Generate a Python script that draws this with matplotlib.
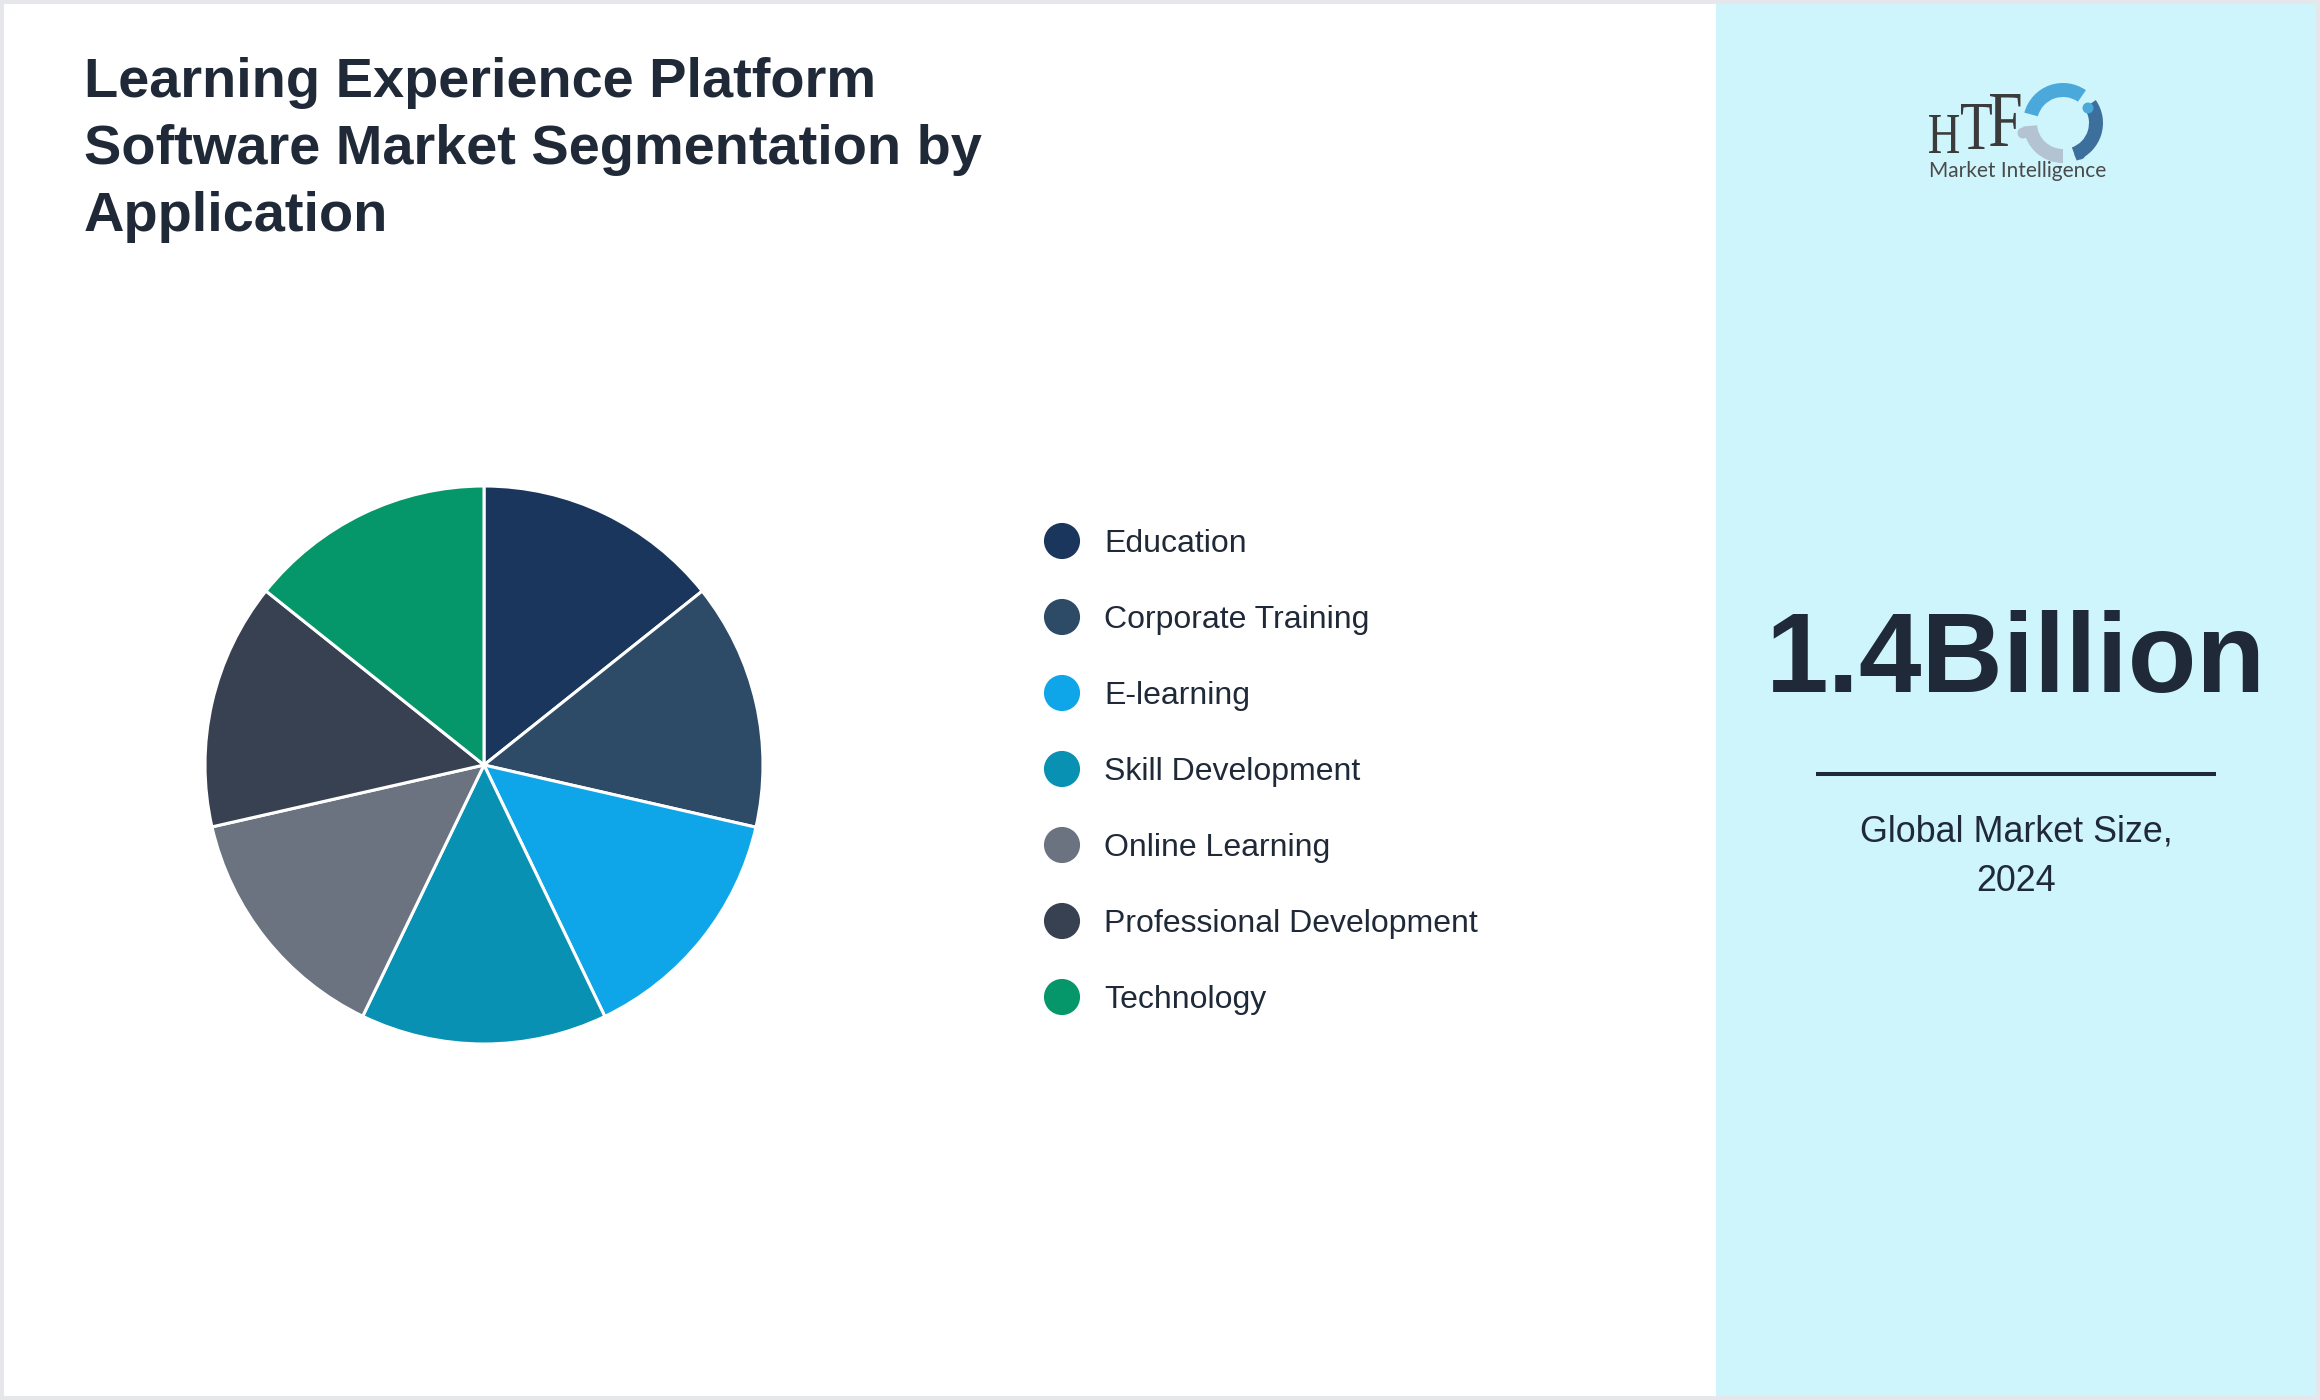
import matplotlib
matplotlib.use("Agg")
import matplotlib.pyplot as plt
from matplotlib.patches import Rectangle, Wedge, Circle, PathPatch
from matplotlib.textpath import TextPath
from matplotlib.font_manager import FontProperties
from matplotlib.transforms import Affine2D

plt.rcParams['font.family'] = ['Liberation Sans', 'DejaVu Sans']

# ---- data ----
title_lines = ["Learning Experience Platform",
               "Software Market Segmentation by",
               "Application"]
categories = ["Education", "Corporate Training", "E-learning", "Skill Development",
              "Online Learning", "Professional Development", "Technology"]
shares = [14.29, 14.29, 14.29, 14.29, 14.28, 14.28, 14.28]
colors = ["#1b365d", "#2d4a66", "#0ea5e9", "#0891b2", "#6b7280", "#374151", "#059669"]
market_value = "1.4Billion"
market_label = ["Global Market Size,", "2024"]

TEXT = "#1f2937"
W, H = 2320, 1400
fig = plt.figure(figsize=(W / 100, H / 100), dpi=100)
fig.patch.set_facecolor("#e5e7eb")

# overlay axes in pixel coordinates (y downwards)
ov = fig.add_axes([0, 0, 1, 1], zorder=0)
ov.set_xlim(0, W)
ov.set_ylim(H, 0)
ov.axis("off")
ov.add_patch(Rectangle((4, 4), W - 8, H - 8, facecolor="white", edgecolor="none", zorder=0))
ov.add_patch(Rectangle((1716, 4), 600, H - 8, facecolor="#cff5fc", edgecolor="none", zorder=0.5))

# title
for i, line in enumerate(title_lines):
    ov.text(84, 97 + 67 * i, line, fontsize=40.3, fontweight="bold", color=TEXT,
            ha="left", va="baseline")

# pie
cx, cy, r = 484, 765, 279
pax = fig.add_axes([(cx - r) / W, (H - cy - r) / H, 2 * r / W, 2 * r / H], zorder=1)
pax.pie(shares, colors=colors, startangle=90, counterclock=False, radius=1,
        wedgeprops=dict(edgecolor="white", linewidth=2.2))
pax.set_xlim(-1, 1)
pax.set_ylim(-1, 1)
pax.set_aspect("equal")
pax.axis("off")
for p in pax.patches:
    p.set_clip_on(False)

# legend
for i, (cat, col) in enumerate(zip(categories, colors)):
    y = 541 + 76 * i
    ov.scatter([1062], [y], s=26 ** 2, color=col, edgecolors="none", zorder=2)
    ov.text(1104, y + 11, cat, fontsize=23, color=TEXT, ha="left", va="baseline")

# right panel
ov.text(2016, 692, market_value, fontsize=81, fontweight="bold", color=TEXT,
        ha="center", va="baseline")
ov.plot([1816, 2216], [774, 774], color=TEXT, linewidth=2.9, solid_capstyle="butt")
for i, line in enumerate(market_label):
    ov.text(2016, 841 + 50 * i, line, fontsize=25.8, color=TEXT, ha="center", va="baseline")

# logo (approximation)
serif = FontProperties(family="Liberation Serif")
for ch, x0, base, cap in [("H", 1929, 153, 38), ("T", 1961, 149, 45), ("F", 1990, 146, 52)]:
    tp = TextPath((0, 0), ch, size=100, prop=serif)
    ext = tp.get_extents()
    sy = cap / ext.height
    sx = sy * 0.78
    tr = Affine2D().translate(-ext.x0, 0).scale(sx, -sy).translate(x0, base) + ov.transData
    ov.add_patch(PathPatch(tp, transform=tr, facecolor="#3b3b3b", edgecolor="none", zorder=3))
ov.text(1929, 177, "Market Intelligence", fontsize=15, family=["Lato", "DejaVu Sans"],
        color="#4a4a4a", ha="left", va="baseline")
lx, ly = 2063, 123
ov.add_patch(Wedge((lx, ly), 40, -165, -55, width=14, facecolor="#4aa8da", edgecolor="none", zorder=3))
ov.add_patch(Wedge((lx, ly), 40, -35, 70, width=14, facecolor="#3c6f9c", edgecolor="none", zorder=3))
ov.add_patch(Wedge((lx, ly), 40, 90, 175, width=14, facecolor="#b3c3d1", edgecolor="none", zorder=3))
ov.add_patch(Circle((2088, 108), 5.5, facecolor="#4aa8da", edgecolor="none", zorder=3))
ov.add_patch(Circle((2080, 154), 5.5, facecolor="#3c6f9c", edgecolor="none", zorder=3))
ov.add_patch(Circle((2023, 133), 5.5, facecolor="#b3c3d1", edgecolor="none", zorder=3))

fig.savefig("out.png", dpi=100, facecolor=fig.get_facecolor())
